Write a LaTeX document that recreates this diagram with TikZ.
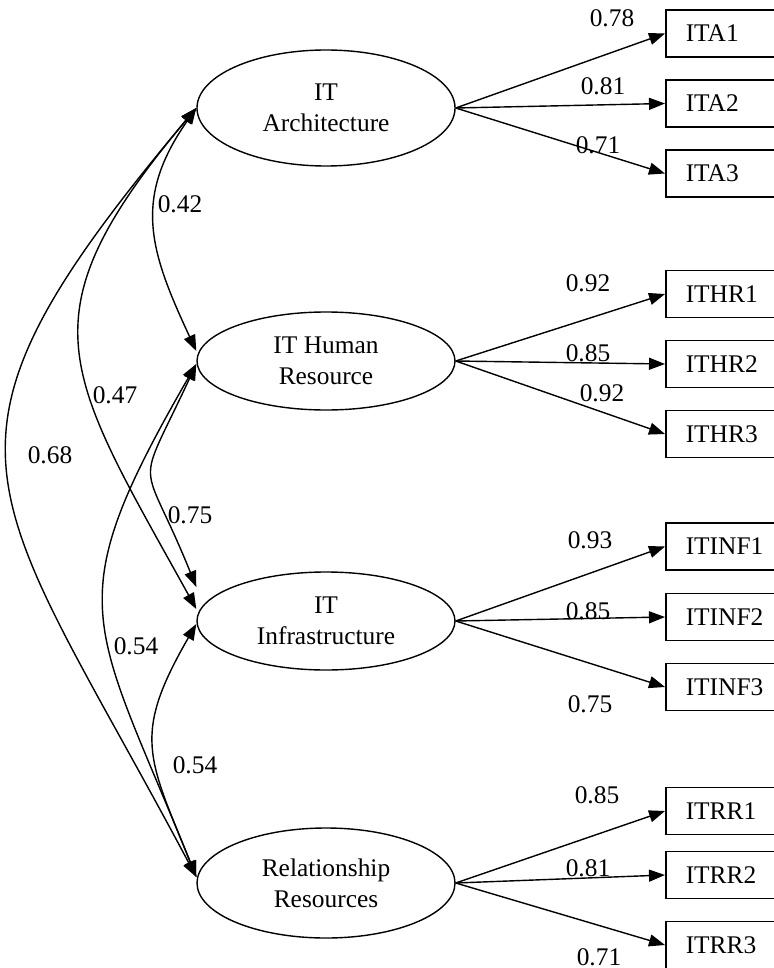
\documentclass[tikz,border=0pt]{standalone}
\usepackage{fontspec}
\setmainfont{Liberation Serif}
\usepackage{tikz}
\usetikzlibrary{shapes.geometric,arrows.meta}

\begin{document}
\begin{tikzpicture}[x=0.5pt,y=0.5pt,
	every node/.style={font=\fontsize{12.7}{15.5}\selectfont},
	latent/.style={draw,ellipse,line width=0.7pt,minimum width=129pt,inner sep=0pt,align=center},
	indicator/.style={draw,rectangle,line width=0.75pt,anchor=west,minimum height=23.5pt,text width=40pt,inner xsep=10pt,align=left},
	load/.style={line width=0.7pt,-{Triangle[length=8pt,width=6pt]}},
	corr/.style={line width=0.7pt,{Triangle[length=8pt,width=6pt]}-{Triangle[length=8pt,width=6pt]}}]
	\useasboundingbox (0,0) rectangle (773,-968);

	% latent constructs
	\node[latent,minimum height=58pt] (arch) at (326,-108) {IT\\Architecture};
	\node[latent,minimum height=49pt] (hr) at (326,-361) {IT Human\\Resource};
	\node[latent,minimum height=49pt] (inf) at (326,-621) {IT\\Infrastructure};
	\node[latent,minimum height=55pt] (rr) at (326,-883) {Relationship\\Resources};

	% indicators
	\node[indicator] (ita1) at (665,-33.5) {ITA1};
	\node[indicator] (ita2) at (665,-103.5) {ITA2};
	\node[indicator] (ita3) at (665,-173.5) {ITA3};
	\node[indicator] (ithr1) at (665,-294) {ITHR1};
	\node[indicator] (ithr2) at (665,-364) {ITHR2};
	\node[indicator] (ithr3) at (665,-434) {ITHR3};
	\node[indicator] (itinf1) at (665,-546.5) {ITINF1};
	\node[indicator] (itinf2) at (665,-617) {ITINF2};
	\node[indicator] (itinf3) at (665,-687) {ITINF3};
	\node[indicator] (itrr1) at (665,-811) {ITRR1};
	\node[indicator] (itrr2) at (665,-875) {ITRR2};
	\node[indicator] (itrr3) at (665,-945) {ITRR3};

	% loadings
	\foreach \i in {1,2,3} {
		\draw[load] (arch.east) -- (ita\i.west);
		\draw[load] (hr.east) -- (ithr\i.west);
		\draw[load] (inf.east) -- (itinf\i.west);
		\draw[load] (rr.east) -- (itrr\i.west);
	}
	\node (la1) at (612,-18) {0.78};
	\node (la2) at (603,-86) {0.81};
	\node (la3) at (598,-145) {0.71};
	\node (lh1) at (588,-283) {0.92};
	\node (lh2) at (588,-353) {0.85};
	\node (lh3) at (602,-393) {0.92};
	\node (li1) at (590,-540) {0.93};
	\node (li2) at (588,-611) {0.85};
	\node (li3) at (590,-704) {0.75};
	\node (lr1) at (597,-795) {0.85};
	\node (lr2) at (588,-868) {0.81};
	\node (lr3) at (599,-957) {0.71};

	% correlations
	\draw[corr] (arch.west) to[out=235,in=115,looseness=1.17] ([yshift=5pt]hr.west);
	\draw[corr] (arch.west) to[out=230,in=119,looseness=1.4] ([yshift=6pt]inf.west);
	\draw[corr] (arch.west) to[out=230,in=118,looseness=1.5] ([yshift=3pt]rr.west);
	\draw[corr] ([yshift=-1.5pt]hr.west) to[out=245,in=112,looseness=1.7] ([yshift=17pt]inf.west);
	\draw[corr] ([yshift=-1.5pt]hr.west) to[out=240,in=112,looseness=1.4] ([yshift=3pt]rr.west);
	\draw[corr] ([yshift=-1.5pt]inf.west) to[out=240,in=112,looseness=1.31] ([yshift=3pt]rr.west);
	\node (c42) at (180,-204) {0.42};
	\node (c47) at (115,-395) {0.47};
	\node (c68) at (50,-455) {0.68};
	\node (c75) at (190,-515) {0.75};
	\node (c54a) at (136,-646) {0.54};
	\node (c54b) at (195,-765) {0.54};
\end{tikzpicture}
\end{document}
